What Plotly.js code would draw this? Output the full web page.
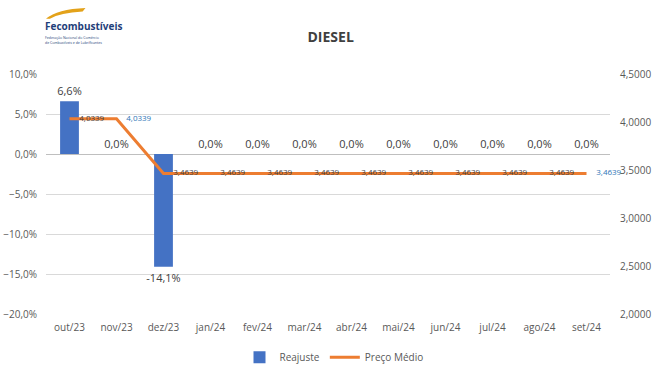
<!DOCTYPE html>
<html><head><meta charset="utf-8">
<script src="https://cdn.plot.ly/plotly-3.0.1.min.js"></script>
<style>html,body{margin:0;padding:0;background:#fff}#c{width:668px;height:374px}</style>
</head><body><div id="c"></div>
<script>
const categories = ['out/23','nov/23','dez/23','jan/24','fev/24','mar/24','abr/24','mai/24','jun/24','jul/24','ago/24','set/24'];
const reajuste = [6.6, 0, -14.1, 0, 0, 0, 0, 0, 0, 0, 0, 0];
const precoMedio = [4.0339, 4.0339, 3.4639, 3.4639, 3.4639, 3.4639, 3.4639, 3.4639, 3.4639, 3.4639, 3.4639, 3.4639];
const precoLabelColors = ['#404040','#2E75B6','#404040','#404040','#404040','#404040','#404040','#404040','#404040','#404040','#404040','#2E75B6'];

const font = "'Open Sans', 'Liberation Sans', sans-serif";

const traces = [
  {
    type: 'bar', name: 'Reajuste', x: categories, y: reajuste,
    marker: {color: '#4472C4'}, width: 0.4,
    texttemplate: '%{y:.1f}%', textposition: 'outside', constraintext: 'none',
    textfont: {family: font, size: 11, color: '#404040'},
    cliponaxis: false, yaxis: 'y', hoverinfo: 'skip'
  },
  {
    type: 'scatter', mode: 'lines+markers+text', name: 'Preço Médio', x: categories, y: precoMedio,
    line: {color: '#ED7D31', width: 3},
    marker: {size: 14, color: 'rgba(0,0,0,0)'},
    texttemplate: '%{y:.4f}', textposition: 'middle right',
    textfont: {family: font, size: 8, color: precoLabelColors},
    cliponaxis: false, yaxis: 'y2', hoverinfo: 'skip'
  }
];

const layout = {
  width: 668, height: 374,
  margin: {l: 46, r: 58, t: 74, b: 60, autoexpand: false},
  paper_bgcolor: '#fff', plot_bgcolor: '#fff',
  separators: ',.',
  font: {family: font, color: '#595959', size: 10},
  title: {text: '<b>DIESEL</b>', x: 0.495, xanchor: 'center', y: 0.9, yanchor: 'middle',
          font: {family: font, size: 14, color: '#404040'}},
  bargap: 0.6,
  xaxis: {
    type: 'category', range: [-0.5, 11.5], autorange: false,
    showgrid: false, zeroline: false, showline: false,
    ticks: '', ticklabelstandoff: 6, tickfont: {family: font, size: 10, color: '#595959'}
  },
  yaxis: {
    range: [-20, 10], dtick: 5, tick0: 0, tickformat: '.1f', ticksuffix: '%',
    showgrid: true, gridcolor: '#D9D9D9', gridwidth: 1,
    zeroline: true, zerolinecolor: '#BFBFBF', zerolinewidth: 1,
    showline: false, ticks: '', ticklabelstandoff: 8,
    tickfont: {family: font, size: 10, color: '#595959'}
  },
  yaxis2: {
    overlaying: 'y', side: 'right', range: [2, 4.5], dtick: 0.5, tick0: 2,
    tickformat: '.4f', showgrid: false, zeroline: false, showline: false, ticks: '',
    ticklabelstandoff: 9,
    tickfont: {family: font, size: 10, color: '#595959'}
  },
  showlegend: true,
  legend: {orientation: 'h', x: 0.5, xanchor: 'center', xref: 'container', yref: 'container', y: 0.045, yanchor: 'middle',
           font: {family: font, size: 10, color: '#595959'}, traceorder: 'normal', itemwidth: 30},
  annotations: [
    {xref: 'paper', yref: 'paper', x: -0.005, y: 1.2, xanchor: 'left', yanchor: 'middle',
     text: '<b>Fecombustíveis</b>', showarrow: false,
     font: {family: font, size: 10, color: '#1F3F7A'}},
    {xref: 'paper', yref: 'paper', x: -0.005, y: 1.14, xanchor: 'left', yanchor: 'middle',
     text: 'Federação Nacional do Comércio<br>de Combustíveis e de Lubrificantes', showarrow: false, align: 'left',
     font: {family: font, size: 3.5, color: '#1F3F7A'}}
  ],
  shapes: [
    {type: 'path', xref: 'paper', yref: 'paper',
     path: 'M 0.0,1.23 Q 0.02,1.27 0.07,1.275 L 0.065,1.26 Q 0.025,1.255 0.007,1.23 Z',
     fillcolor: '#E3A21A', line: {width: 0}}
  ]
};

Plotly.newPlot('c', traces, layout, {staticPlot: true, displayModeBar: false});
</script>
</body></html>
